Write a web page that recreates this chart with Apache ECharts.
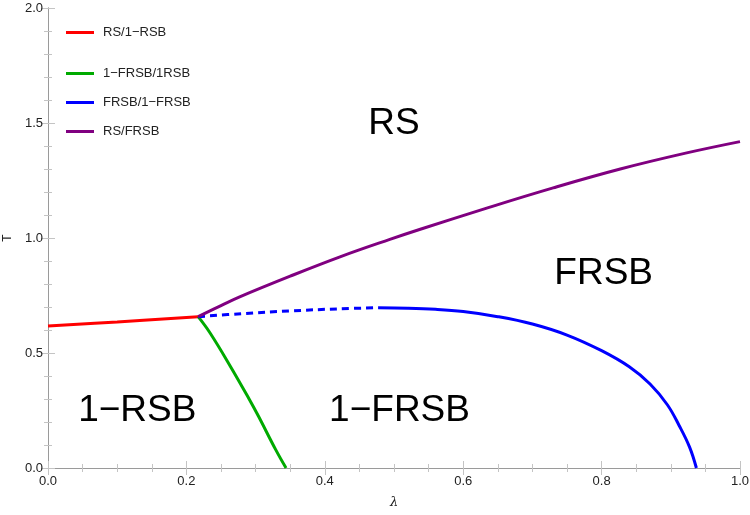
<!DOCTYPE html>
<html>
<head>
<meta charset="utf-8">
<script src="https://cdn.jsdelivr.net/npm/echarts@6/dist/echarts.min.js"></script>
<style>
html,body{margin:0;padding:0;background:#fff;}
#main{width:750px;height:515px;}
</style>
</head>
<body>
<div id="main"></div>
<script type="text/javascript">
	// 相图数据 (λ, T)
	var rsRsb = [[0,0.617],[0.1,0.635],[0.217,0.658]];
	var frsbRsb = [[0.217,0.658],[0.234,0.588],[0.263,0.445],[0.291,0.298],[0.304,0.226],[0.329,0.080],[0.344,0]];
	var frsb1frsb = [[0.477,0.697],[0.52,0.695],[0.56,0.690],[0.60,0.680],[0.65,0.658],[0.70,0.626],[0.75,0.578],[0.80,0.510],[0.84,0.440],[0.87,0.365],[0.895,0.275],[0.912,0.185],[0.927,0.092],[0.937,0]];
	var frsbDashed = [[0.217,0.658],[0.28,0.671],[0.35,0.683],[0.42,0.692],[0.477,0.697]];
	var rsFrsb = [[0.217,0.658],[0.25,0.706],[0.277,0.744],[0.35,0.834],[0.422,0.918],[0.494,0.994],[0.538,1.038],[0.634,1.130],[0.730,1.218],[0.827,1.300],[0.923,1.370],[1.0,1.419]];
	var regionNames = ['RS','FRSB','1\u2212RSB','1\u2212FRSB'];
	var regionPos = [[0.500,1.495],[0.803,0.845],[0.129,0.250],[0.508,0.250]];

	var font = 'Liberation Sans, Arial, sans-serif';
	var frameColor = '#9a9a9a';
	var tickColor = '#c4c4c4';

	var regions = regionNames.map(function(n,i){
		return {name:n,value:regionPos[i]};
	});

	function axisBase(show){
		return {
			type:'value',
			min:0,
			axisLine:{show:true,lineStyle:{color:frameColor,width:1}},
			axisTick:{show:true,inside:true,length:7,lineStyle:{color:tickColor}},
			minorTick:{show:true,length:4,lineStyle:{color:tickColor}},
			splitLine:{show:false},
			axisLabel:{show:show,color:'#222',fontFamily:font,fontSize:13,
				formatter:function(v){return v.toFixed(1);}}
		};
	}

	var xMain = axisBase(true);
	xMain.max = 1; xMain.interval = 0.2; xMain.minorTick.splitNumber = 4;
	xMain.position = 'bottom';
	xMain.name = '\u03bb'; xMain.nameLocation = 'middle'; xMain.nameGap = 28;
	xMain.nameTextStyle = {color:'#222',fontFamily:'DejaVu Serif, serif',fontStyle:'italic',fontSize:13};
	xMain.axisLabel.margin = 7;
	var xTop = axisBase(false);
	xTop.max = 1; xTop.interval = 0.2; xTop.minorTick.splitNumber = 4;
	xTop.position = 'top';

	var yMain = axisBase(true);
	yMain.max = 2; yMain.interval = 0.5; yMain.minorTick.splitNumber = 5;
	yMain.position = 'left';
	yMain.name = 'T'; yMain.nameLocation = 'middle'; yMain.nameGap = 34;
	yMain.nameTextStyle = {color:'#222',fontFamily:font,fontSize:12};
	yMain.axisLabel.margin = 5;
	var yRight = axisBase(false);
	yRight.max = 2; yRight.interval = 0.5; yRight.minorTick.splitNumber = 5;
	yRight.position = 'right';

	function lineSeries(name,data,color,dashed){
		return {
			name:name,
			type:'line',
			data:data,
			smooth:0.4,
			symbol:'none',
			xAxisIndex:0,
			yAxisIndex:0,
			lineStyle:{color:color,width:3,type:dashed?[7,5]:'solid'},
			itemStyle:{color:color},
			z:3
		};
	}

	var legendText = {fontFamily:font,fontSize:13,color:'#222',padding:[0,0,0,4]};

	var option = {
		animation:false,
		backgroundColor:'#fff',
		grid:{left:48,right:10,top:8,bottom:47,containLabel:false,outerBoundsMode:'none'},
		legend:[
			{data:['RS/1\u2212RSB'],left:61,top:21,orient:'vertical',icon:'rect',itemWidth:28,itemHeight:3,textStyle:legendText},
			{data:['1\u2212FRSB/1RSB','FRSB/1\u2212FRSB','RS/FRSB'],left:61,top:62,orient:'vertical',icon:'rect',itemGap:16,itemWidth:28,itemHeight:3,textStyle:legendText}
		],
		xAxis:[xMain,xTop],
		yAxis:[yMain,yRight],
		series:[
			lineSeries('RS/1\u2212RSB',rsRsb,'#ff0000',false),
			lineSeries('1\u2212FRSB/1RSB',frsbRsb,'#00aa00',false),
			lineSeries('FRSB/1\u2212FRSB',frsb1frsb,'#0000ff',false),
			lineSeries('FRSB/1\u2212FRSB unstable',frsbDashed,'#0000ff',true),
			lineSeries('RS/FRSB',rsFrsb,'#800080',false),
			{
				name:'regions',
				type:'scatter',
				data:regions,
				symbolSize:0,
				silent:true,
				itemStyle:{opacity:1},
				label:{show:true,position:'inside',formatter:'{b}',fontFamily:font,fontSize:37,color:'#000',opacity:1}
			}
		]
	};

	var myChart = echarts.init(document.getElementById('main'));
	myChart.setOption(option);
</script>
</body>
</html>
